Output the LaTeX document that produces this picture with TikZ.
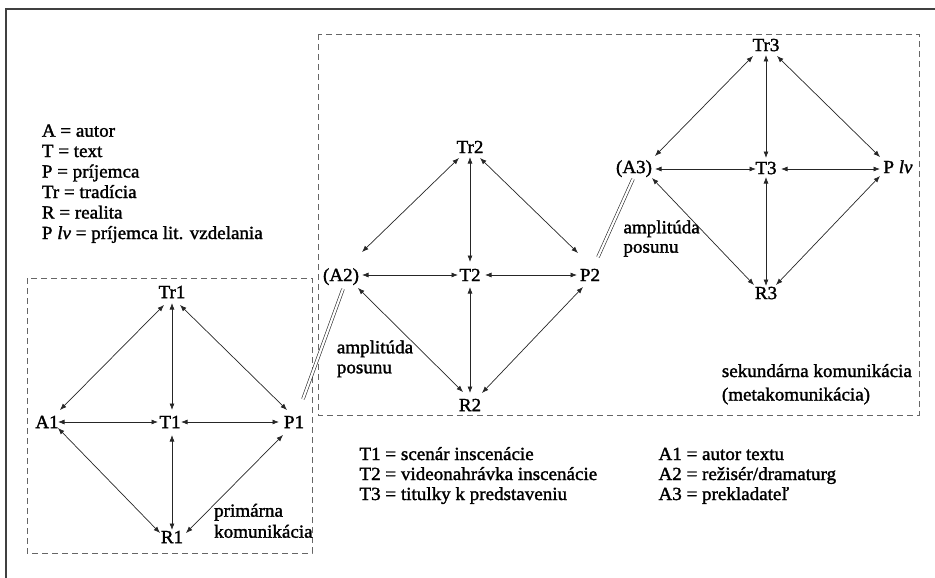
\documentclass[tikz,border=0pt]{standalone}
\usepackage{fontspec}
\setmainfont{Liberation Serif}[FakeStretch=1.03,FakeBold=1.6]
\usetikzlibrary{arrows.meta,calc}
\begin{document}
\begin{tikzpicture}[x=1pt,y=-1pt,
  lbl/.style={inner sep=0pt, text height=12.2pt, text depth=0pt, font=\fontsize{18.5}{20}\selectfont},
  txt/.style={inner sep=0pt, anchor=base west, font=\fontsize{18.5}{20}\selectfont},
  arr/.style={{Latex[length=6.5pt,width=5pt]}-{Latex[length=6.5pt,width=5pt]}, line width=0.7pt, draw=black!85},
  dbl/.style={double, double distance=2.2pt, line width=0.6pt, draw=black!85},
  dashbox/.style={draw=black!60, line width=0.8pt, dash pattern=on 6pt off 4pt},
  frame/.style={draw=black!75, line width=1.3pt}]
\useasboundingbox (0,0) rectangle (935,578);
% outer frame (top and left edges)
\draw[frame] (6,578) -- (6,9) -- (935,9);
% dashed boxes
\draw[dashbox] (27,278) rectangle (312,553);
\draw[dashbox] (318,34) rectangle (919,415);

% legend top-left
\node[txt] (lg1) at (41.7,136.7) {A = autor};
\node[txt] (lg2) at (41.7,157) {T = text};
\node[txt] (lg3) at (41.7,177.5) {P = príjemca};
\node[txt] (lg4) at (41.7,198) {Tr = tradícia};
\node[txt] (lg5) at (41.7,218.5) {R = realita};
\node[txt] (lg6) at (41.7,239) {P \textit{lv} = príjemca lit. vzdelania};

% legend bottom
\node[txt] (lt1) at (359.3,460) {T1 = scenár inscenácie};
\node[txt] (lt2) at (359.3,480) {T2 = videonahrávka inscenácie};
\node[txt] (lt3) at (359.3,500) {T3 = titulky k predstaveniu};
\node[txt] (la1) at (658.3,460) {A1 = autor textu};
\node[txt] (la2) at (658.3,480) {A2 = režisér/dramaturg};
\node[txt] (la3) at (658.3,500) {A3 = prekladateľ};

% other captions
\node[txt] (prim1) at (214,516.7) {primárna};
\node[txt] (prim2) at (214,537.7) {komunikácia};
\node[txt] (amp2a) at (336.7,353.3) {amplitúda};
\node[txt] (amp2b) at (336.7,373.3) {posunu};
\node[txt] (amp3a) at (623.3,233.3) {amplitúda};
\node[txt] (amp3b) at (623.3,252.7) {posunu};
\node[txt] (sek1) at (721.7,377) {sekundárna komunikácia};
\node[txt] (sek2) at (721.7,400.5) {(metakomunikácia)};

% diagram 1
\node[lbl] (Tr1) at (172,292) {Tr1};
\node[lbl] (A1) at (47,422) {A1};
\node[lbl] (T1) at (170,422) {T1};
\node[lbl] (P1) at (294,422) {P1};
\node[lbl] (R1) at (172,537) {R1};
\draw[arr] ($(Tr1)+(-8,13)$) -- ($(A1)+(13,-12)$);
\draw[arr] ($(Tr1)+(0,11)$) -- ($(T1)+(2,-12)$);
\draw[arr] ($(Tr1)+(8,13)$) -- ($(P1)+(-7,-12)$);
\draw[arr] ($(A1)+(11,0)$) -- ($(T1)+(-12,0)$);
\draw[arr] ($(T1)+(11,0)$) -- ($(P1)+(-15,0)$);
\draw[arr] ($(A1)+(11,6)$) -- ($(R1)+(-12,-4)$);
\draw[arr] ($(T1)+(2,13)$) -- ($(R1)+(0,-7)$);
\draw[arr] ($(P1)+(-11,13)$) -- ($(R1)+(14,-4)$);

% diagram 2
\node[lbl] (Tr2) at (470,147) {Tr2};
\node[lbl] (A2) at (341,275) {(A2)};
\node[lbl] (T2) at (470,275) {T2};
\node[lbl] (P2) at (590,275) {P2};
\node[lbl] (R2) at (470,405) {R2};
\draw[arr] ($(Tr2)+(-11,11)$) -- ($(A2)+(21,-23)$);
\draw[arr] ($(Tr2)+(0,10)$) -- ($(T2)+(0,-13)$);
\draw[arr] ($(Tr2)+(10,11)$) -- ($(P2)+(-12,-22)$);
\draw[arr] ($(A2)+(21,0)$) -- ($(T2)+(-12,0)$);
\draw[arr] ($(T2)+(15,0)$) -- ($(P2)+(-13,0)$);
\draw[arr] ($(A2)+(17,13)$) -- ($(R2)+(-7,-13)$);
\draw[arr] ($(T2)+(0,12)$) -- ($(R2)+(0,-12)$);
\draw[arr] ($(P2)+(-7,12)$) -- ($(R2)+(12,-12)$);

% diagram 3
\node[lbl] (Tr3) at (766,45) {Tr3};
\node[lbl] (A3) at (634,167) {(A3)};
\node[lbl] (T3) at (766,168) {T3};
\node[lbl] (Plv) at (898,167) {P \textit{lv}};
\node[lbl] (R3) at (766,293) {R3};
\draw[arr] ($(Tr3)+(-13,11)$) -- ($(A3)+(21,-11)$);
\draw[arr] ($(Tr3)+(0,10)$) -- ($(T3)+(0,-10)$);
\draw[arr] ($(Tr3)+(11,11)$) -- ($(Plv)+(-18,-10)$);
\draw[arr] ($(A3)+(21,2)$) -- ($(T3)+(-10,1)$);
\draw[arr] ($(T3)+(15,1)$) -- ($(Plv)+(-18,2)$);
\draw[arr] ($(A3)+(18,11)$) -- ($(R3)+(-12,-8)$);
\draw[arr] ($(T3)+(0,9)$) -- ($(R3)+(0,-7)$);
\draw[arr] ($(Plv)+(-18,9)$) -- ($(R3)+(10,-8)$);

% amplitude double lines
\draw[dbl] ($(P1)+(9,-23)$) -- ($(A2)+(2,14)$);
\draw[dbl] ($(P2)+(8,-18)$) -- ($(A3)+(-1,12)$);
\end{tikzpicture}
\end{document}
